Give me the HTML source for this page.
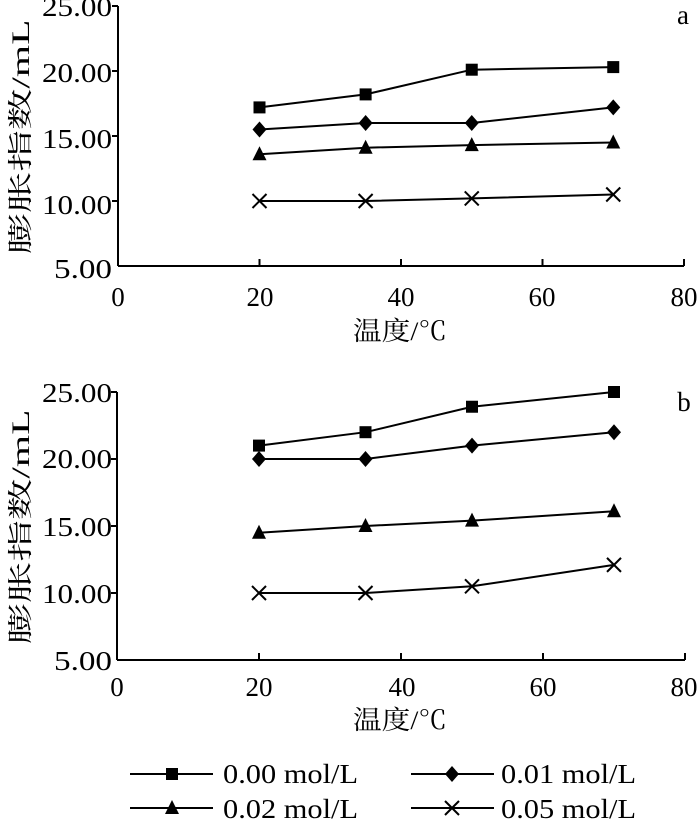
<!DOCTYPE html>
<html><head><meta charset="utf-8"><style>
body{margin:0;background:#fff}
svg text{font-family:"Liberation Serif","Noto Serif CJK SC",serif;fill:#000}
</style></head><body>
<svg id="s" width="700" height="822" viewBox="0 0 700 822" xmlns="http://www.w3.org/2000/svg">
<g font-size="27" text-anchor="end">
<text x="112" y="16" textLength="70" lengthAdjust="spacingAndGlyphs">25.00</text><text x="112" y="82" textLength="70" lengthAdjust="spacingAndGlyphs">20.00</text><text x="112" y="148" textLength="70" lengthAdjust="spacingAndGlyphs">15.00</text><text x="112" y="214" textLength="70" lengthAdjust="spacingAndGlyphs">10.00</text><text x="112" y="278" textLength="58" lengthAdjust="spacingAndGlyphs">5.00</text>
<text x="112" y="402" textLength="70" lengthAdjust="spacingAndGlyphs">25.00</text><text x="112" y="468" textLength="70" lengthAdjust="spacingAndGlyphs">20.00</text><text x="112" y="536" textLength="70" lengthAdjust="spacingAndGlyphs">15.00</text><text x="112" y="603" textLength="70" lengthAdjust="spacingAndGlyphs">10.00</text><text x="112" y="670" textLength="58" lengthAdjust="spacingAndGlyphs">5.00</text>
</g>
<g font-size="27" text-anchor="middle">
<text x="118" y="306">0</text><text x="260" y="306">20</text><text x="401" y="306">40</text><text x="542" y="306">60</text><text x="684" y="306">80</text>
<text x="117" y="696">0</text><text x="259" y="696">20</text><text x="402" y="696">40</text><text x="543" y="696">60</text><text x="684" y="696">80</text>
<text x="400" y="340" font-size="26" textLength="94" lengthAdjust="spacingAndGlyphs">温度/℃</text>
<text x="400" y="729" font-size="26" textLength="94" lengthAdjust="spacingAndGlyphs">温度/℃</text>
</g>
<text x="683" y="24" font-size="27" text-anchor="middle">a</text>
<text x="684" y="411" font-size="27" text-anchor="middle">b</text>
<text transform="translate(29,137) rotate(-90)" font-size="25" text-anchor="middle" textLength="235" lengthAdjust="spacingAndGlyphs">膨胀指数/mL</text>
<text transform="translate(29,527) rotate(-90)" font-size="25" text-anchor="middle" textLength="235" lengthAdjust="spacingAndGlyphs">膨胀指数/mL</text>
<g font-size="27">
<text x="223" y="783" textLength="135" lengthAdjust="spacingAndGlyphs">0.00 mol/L</text><text x="501" y="783" textLength="135" lengthAdjust="spacingAndGlyphs">0.01 mol/L</text>
<text x="223" y="818" textLength="135" lengthAdjust="spacingAndGlyphs">0.02 mol/L</text><text x="501" y="818" textLength="135" lengthAdjust="spacingAndGlyphs">0.05 mol/L</text>
</g>
<g id="g" stroke="#000" stroke-width="2" fill="none"></g>
</svg>
<script>
var g=document.getElementById('g'),o='';
function L(a,b,c,d){o+='<line x1="'+a+'" y1="'+b+'" x2="'+c+'" y2="'+d+'"/>';}
function M(t,x,y){
 if(t==0)o+='<rect x="'+(x-6)+'" y="'+(y-6)+'" width="12" height="12" fill="#000" stroke="none"/>';
 if(t==1)o+='<polygon points="'+x+','+(y-8)+' '+(x+7)+','+y+' '+x+','+(y+8)+' '+(x-7)+','+y+'" fill="#000" stroke="none"/>';
 if(t==2)o+='<polygon points="'+x+','+(y-8)+' '+(x+7)+','+(y+6)+' '+(x-7)+','+(y+6)+'" fill="#000" stroke="none"/>';
 if(t==3){L(x-7,y-7,x+7,y+7);L(x-7,y+7,x+7,y-7);}
}
function chart(x0,x80,y25,y5,data){
 L(x0,y25,x0,y5);L(x0,y5,x80,y5);
 for(var i=1;i<=4;i++){var x=x0+(x80-x0)*i/4;L(x,y5,x,y5-7);}
 for(var i=0;i<4;i++){var y=y25+(y5-y25)*i/4;L(x0,y,x0-6,y);}
 var xs=[20,35,50,70];
 data.forEach(function(d,t){
  var p=d.map(function(v,i){return[x0+(x80-x0)*xs[i]/80,y25+(25-v)/20*(y5-y25)];});
  o+='<polyline points="'+p.map(function(q){return q.join(',')}).join(' ')+'"/>';
  p.forEach(function(q){M(t,q[0],q[1]);});
 });
}
chart(118,684,6,266,[[17.2,18.2,20.1,20.3],[15.5,16,16,17.2],[13.6,14.1,14.3,14.5],[10,10,10.2,10.5]]);
chart(117,685,392,660,[[21,22,23.9,25],[20,20,21,22],[14.5,15,15.4,16.1],[10,10,10.5,12.1]]);
L(130,774,213,774);M(0,172,774);L(411,774,494,774);M(1,452,774);
L(130,808,213,808);M(2,172,808);L(411,808,494,808);M(3,452,808);
g.innerHTML=o;
</script>
</body></html>
